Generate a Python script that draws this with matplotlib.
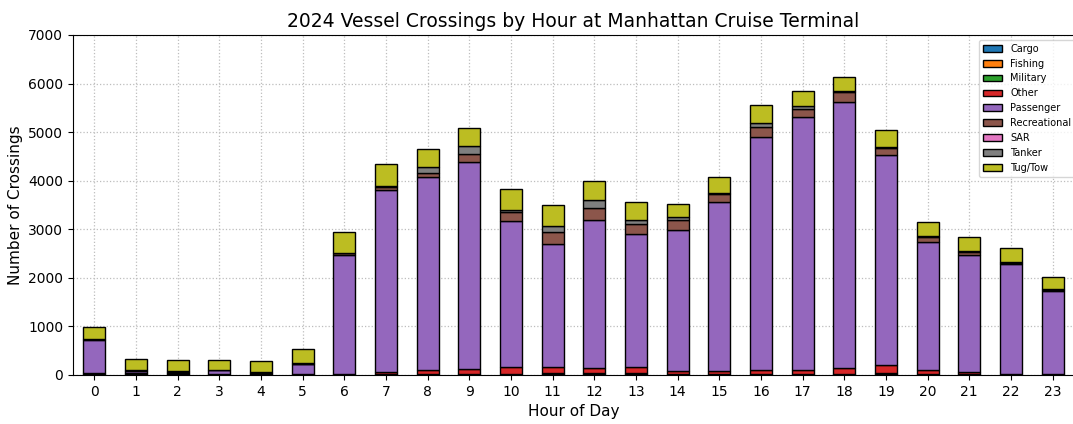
import pandas as pd
import matplotlib.pyplot as plt

hours = list(range(24))

cargo = [20, 25, 25, 20, 30, 15, 10, 15, 20, 20, 25, 30, 30, 30, 25, 20, 20, 20, 25, 30, 25, 20, 20, 20]
fishing = [0, 0, 0, 0, 0, 0, 0, 0, 2, 2, 2, 2, 2, 2, 0, 0, 2, 2, 2, 0, 0, 0, 0, 0]
military = [0, 0, 0, 0, 0, 0, 0, 2, 2, 2, 2, 2, 2, 2, 2, 2, 2, 2, 2, 2, 0, 0, 0, 0]
other = [15, 15, 15, 10, 10, 10, 15, 35, 80, 100, 140, 130, 120, 130, 65, 60, 80, 80, 110, 180, 70, 40, 10, 10]
passenger = [690, 50, 30, 65, 25, 195, 2440, 3760, 3980, 4260, 3005, 2540, 3030, 2740, 2895, 3470,
             4790, 5200, 5490, 4320, 2650, 2410, 2255, 1700]
recreational = [20, 5, 5, 5, 5, 15, 40, 60, 85, 165, 190, 230, 260, 210, 205, 170, 210, 170, 190, 140, 105, 70, 15, 20]
sar = [0] * 24
tanker = [5, 0, 0, 0, 0, 5, 10, 15, 120, 170, 40, 130, 160, 80, 70, 35, 80, 55, 20, 30, 20, 20, 30, 15]
tug_tow = [230, 235, 235, 210, 220, 300, 425, 455, 365, 365, 430, 430, 400, 365, 250, 315,
           370, 325, 305, 345, 275, 290, 290, 260]

df = pd.DataFrame({
    'Cargo': cargo,
    'Fishing': fishing,
    'Military': military,
    'Other': other,
    'Passenger': passenger,
    'Recreational': recreational,
    'SAR': sar,
    'Tanker': tanker,
    'Tug/Tow': tug_tow,
}, index=hours)

fig = plt.figure(figsize=(10.73, 4.24), dpi=100)
ax = fig.add_axes([73 / 1073, 49 / 424, 1001 / 1073, 340 / 424])

df.plot(kind='bar', stacked=True, ax=ax, edgecolor='black', linewidth=1, rot=0, width=0.53)

ax.set_ylim(0, 7000)
ax.set_title('2024 Vessel Crossings by Hour at Manhattan Cruise Terminal', fontsize=13.5)
ax.set_xlabel('Hour of Day', fontsize=11)
ax.set_ylabel('Number of Crossings', fontsize=11)
ax.grid(True, linestyle=':', color='#bdbdbd', linewidth=0.9)
ax.set_axisbelow(True)
ax.legend(loc='upper right', fontsize=7, bbox_to_anchor=(1.006, 1.0))

fig.savefig('out.png', dpi=100)
